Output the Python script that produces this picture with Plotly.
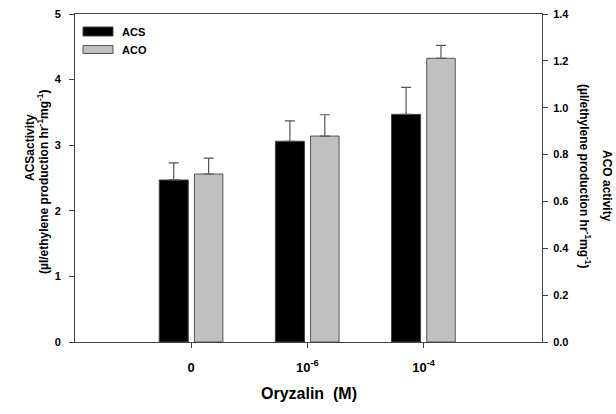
import plotly.graph_objects as go

categories = [0, 1, 2]
tick_labels = ["0", "10<sup>-6</sup>", "10<sup>-4</sup>"]
acs_values = [2.47, 3.06, 3.47]
acs_err = [0.26, 0.31, 0.41]
aco_values = [0.717, 0.879, 1.211]
aco_err = [0.068, 0.091, 0.055]

FONT = "Liberation Sans, Arial, sans-serif"
W, H = 616, 414
L, T = 75, 14
R = W - 542
B = H - 342
PW, PH = W - L - R, H - T - B

def px(x):
    return (x - L) / PW

def py(y):
    return (H - B - y) / PH

fig = go.Figure()
fig.add_trace(go.Bar(
    x=categories, y=acs_values, name="ACS",
    offset=-0.275, width=0.25,
    marker=dict(color="black", line=dict(color="#444", width=1)),
    error_y=dict(type="data", array=acs_err, arrayminus=[0]*3, symmetric=False,
                 color="#555", thickness=1.2, width=5),
    yaxis="y", showlegend=False,
))
fig.add_trace(go.Bar(
    x=categories, y=aco_values, name="ACO",
    offset=0.028, width=0.245,
    marker=dict(color="#c0c0c0", line=dict(color="#555", width=1)),
    error_y=dict(type="data", array=aco_err, arrayminus=[0]*3, symmetric=False,
                 color="#555", thickness=1.2, width=5),
    yaxis="y2", showlegend=False,
))

axis_line = dict(showline=True, linecolor="#444", linewidth=1, showgrid=False,
                 zeroline=False, ticks="outside", ticklen=5, tickcolor="#444",
                 automargin=False, ticklabeloverflow="allow",
                 tickfont=dict(family=FONT, size=11, color="black", weight="bold"))

fig.update_layout(
    width=W, height=H,
    margin=dict(l=L, r=R, t=T, b=B, autoexpand=False),
    plot_bgcolor="white", paper_bgcolor="white",
    barmode="overlay",
    xaxis=dict(range=[-1, 3.02], tickvals=categories, ticktext=tick_labels,
               mirror=True, ticklabelstandoff=8,
               **{**axis_line, "tickfont": dict(family=FONT, size=13, color="black", weight="bold")}),
    yaxis=dict(range=[0, 5], dtick=1, ticklabelstandoff=6, **axis_line),
    yaxis2=dict(range=[0, 1.4], dtick=0.2, tickformat=".1f", overlaying="y",
                side="right", ticklabelstandoff=3, **axis_line),
)

title_font = dict(family=FONT, size=12, color="black", weight="bold")

def lab(text, x, y, angle):
    return dict(text=text, xref="paper", yref="paper", x=px(x), y=py(y),
                xanchor="center", yanchor="middle", textangle=angle,
                showarrow=False, font=title_font)

ann = [
    lab("ACSactivity", 30, 148, -90),
    lab("(µl/ethylene production hr<sup>-1</sup>mg<sup>-1</sup>)", 43, 182, -90),
    lab("ACO activity", 607, 186, 90),
    lab("(µl/ethylene production hr<sup>-1</sup>mg<sup>-1</sup>)", 585, 176, 90),
    dict(text="Oryzalin  (M)", xref="paper", yref="paper", x=0.5, y=0, yanchor="middle",
         yshift=-51, showarrow=False,
         font=dict(family=FONT, size=16, color="black", weight="bold")),
    dict(text="ACS", xref="paper", yref="paper", x=px(120), y=py(32), xanchor="left",
         yanchor="middle", showarrow=False,
         font=dict(family=FONT, size=11, color="black", weight="bold")),
    dict(text="ACO", xref="paper", yref="paper", x=px(120), y=py(50), xanchor="left",
         yanchor="middle", showarrow=False,
         font=dict(family=FONT, size=11, color="black", weight="bold")),
]
fig.update_layout(annotations=ann)

fig.update_layout(shapes=[
    dict(type="rect", xref="paper", yref="paper", x0=px(83), x1=px(113),
         y0=py(36), y1=py(27), fillcolor="black", line=dict(color="#444", width=1)),
    dict(type="rect", xref="paper", yref="paper", x0=px(83), x1=px(113),
         y0=py(53.5), y1=py(45.5), fillcolor="#c0c0c0", line=dict(color="#555", width=1)),
])

fig.write_html(
    "out.html",
    config={"displayModeBar": False},
    post_script="document.body.style.margin='0';document.body.style.overflow='hidden';",
)
